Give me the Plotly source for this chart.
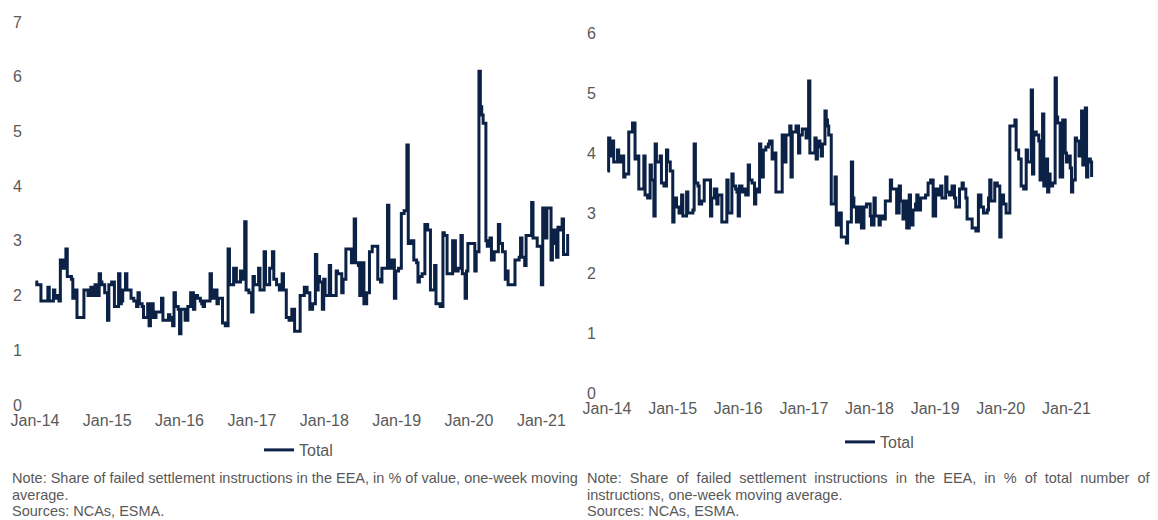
import pandas as pd
import plotly.graph_objects as go

# ---- data: weekly readings, one row per year (Jan 2014 - May 2021) ----
value_2014 = [2.25, 2.2, 2.2, 2.2, 1.9, 1.9, 1.9, 1.9, 1.9, 2.15, 1.9, 1.9, 1.9, 2.1, 2.0, 1.95, 2.0, 1.9, 2.65, 2.65, 2.5, 2.5, 2.85, 2.35, 2.35, 2.35,
              2.3, 1.95, 1.95, 2.1, 1.6, 1.6, 1.6, 1.6, 1.6, 2.1, 2.1, 2.1, 2.0, 2.0, 2.15, 2.0, 2.0, 2.2, 2.0, 2.0, 2.4, 2.25, 2.2, 2.2, 2.05, 2.05]
value_2015 = [1.55, 2.2, 2.2, 2.25, 2.25, 1.8, 1.8, 1.8, 2.4, 1.85, 1.9, 2.1, 2.1, 2.4, 2.1, 2.1, 2.1, 1.95, 1.95, 1.9, 1.9, 1.8, 2.05, 1.85, 1.85, 1.8,
              1.6, 1.6, 1.6, 1.85, 1.45, 1.85, 1.85, 1.6, 1.6, 1.7, 1.7, 1.7, 1.7, 1.95, 1.55, 1.55, 1.55, 1.55, 1.65, 1.6, 1.55, 1.45, 2.05, 1.8, 1.8, 1.75]
value_2016 = [1.3, 1.75, 1.75, 1.75, 1.55, 1.55, 1.8, 1.8, 2.05, 2.05, 1.75, 2.0, 2.0, 1.95, 1.95, 1.9, 1.85, 1.8, 1.9, 1.9, 1.9, 1.9, 2.4, 1.95, 1.95, 2.1,
              2.1, 1.85, 1.95, 1.95, 1.95, 1.5, 1.5, 1.45, 1.45, 2.85, 2.2, 2.2, 2.2, 2.5, 2.5, 2.25, 2.25, 2.25, 2.45, 2.3, 2.3, 3.35, 2.1, 2.1, 2.05, 2.05]
value_2017 = [1.7, 2.35, 2.2, 2.2, 2.2, 2.5, 2.1, 2.1, 2.1, 2.8, 2.2, 2.2, 2.2, 2.5, 2.5, 2.8, 2.3, 2.3, 2.2, 2.2, 2.1, 2.1, 2.4, 2.1, 2.1, 1.6,
              1.6, 1.55, 1.55, 1.75, 1.75, 1.35, 1.35, 1.35, 1.35, 2.0, 2.0, 2.0, 2.15, 2.15, 2.05, 2.05, 1.75, 1.75, 1.85, 1.85, 2.75, 2.1, 2.35, 2.25, 2.25, 1.75]
value_2018 = [2.3, 2.0, 2.0, 2.0, 2.55, 2.0, 2.0, 2.0, 2.0, 2.45, 2.4, 2.4, 2.4, 2.05, 2.3, 2.3, 2.85, 2.85, 2.85, 2.85, 2.6, 2.6, 3.4, 2.6, 2.6, 2.55,
              2.0, 2.6, 2.6, 1.85, 1.85, 2.05, 2.05, 2.8, 2.8, 2.9, 2.9, 2.9, 2.9, 2.3, 2.3, 2.25, 2.5, 2.5, 2.5, 2.5, 3.65, 2.5, 2.5, 2.65, 2.65, 1.95]
value_2019 = [2.45, 2.45, 2.5, 2.5, 3.5, 3.5, 3.55, 3.55, 4.75, 2.95, 2.95, 3.0, 3.0, 2.65, 2.65, 2.6, 2.25, 2.35, 2.35, 2.4, 2.4, 3.3, 3.3, 3.2, 3.2, 2.1,
              2.1, 2.1, 2.55, 1.85, 1.85, 1.85, 1.8, 1.8, 3.15, 3.1, 3.1, 2.4, 2.4, 2.4, 2.4, 3.0, 3.0, 2.45, 2.45, 2.5, 2.5, 3.1, 2.4, 2.4, 1.95, 2.45]
value_2020 = [2.95, 2.95, 2.95, 2.95, 2.95, 2.45, 2.8, 2.8, 6.1, 5.45, 5.3, 5.15, 5.15, 3.0, 2.9, 2.9, 3.05, 2.65, 2.65, 2.8, 2.8, 2.8, 3.3, 2.95, 2.95, 2.8,
              2.8, 2.3, 2.45, 2.2, 2.2, 2.2, 2.2, 2.2, 2.65, 2.65, 2.65, 2.7, 3.05, 2.7, 2.7, 2.55, 3.1, 3.1, 3.1, 3.1, 3.7, 3.05, 3.05, 3.05, 2.9, 2.9]
value_2021 = [2.9, 2.2, 3.6, 3.6, 3.05, 3.6, 3.6, 3.6, 2.65, 3.2, 3.2, 2.95, 2.7, 3.25, 3.25, 3.2, 3.4, 2.75, 2.75, 2.75, 3.1, 3.1]

number_2014 = [3.7, 4.25, 3.95, 3.95, 4.2, 3.85, 3.85, 3.85, 4.05, 3.85, 3.85, 3.95, 3.95, 3.6, 3.65, 3.65, 3.65, 4.35, 4.35, 4.35, 4.5, 4.5, 3.9, 3.95, 3.95, 3.4,
               3.4, 3.4, 3.4, 3.95, 3.3, 3.3, 3.25, 3.25, 3.8, 3.55, 3.55, 2.95, 4.15, 3.85, 3.85, 3.85, 3.95, 3.5, 3.5, 3.45, 3.45, 4.05, 3.85, 3.85, 3.7, 3.7]
number_2015 = [2.85, 3.25, 3.25, 3.1, 3.1, 3.0, 3.0, 3.3, 2.95, 2.95, 2.95, 3.35, 3.0, 3.0, 3.0, 3.0, 3.05, 4.15, 3.5, 3.5, 3.45, 3.15, 3.15, 3.2, 3.2, 3.55,
               3.55, 3.55, 3.55, 3.55, 2.95, 3.25, 3.25, 3.4, 3.4, 3.15, 3.3, 3.3, 3.3, 2.85, 2.85, 2.85, 2.85, 3.55, 3.0, 3.0, 3.0, 3.65, 3.45, 3.45, 3.4, 3.35]
number_2016 = [2.95, 3.45, 3.45, 3.35, 3.35, 3.4, 3.3, 3.3, 3.8, 3.55, 3.55, 3.5, 3.5, 3.15, 3.4, 3.4, 3.35, 4.15, 3.6, 3.6, 4.05, 4.05, 4.1, 4.1, 4.15, 4.2,
               4.2, 3.9, 3.9, 4.0, 3.35, 3.35, 3.35, 3.35, 3.35, 4.3, 3.85, 3.85, 4.3, 4.3, 4.3, 4.45, 3.6, 4.35, 4.35, 4.35, 4.45, 4.45, 4.0, 4.3, 4.3, 4.4]
number_2017 = [4.4, 4.4, 4.25, 4.25, 5.2, 4.0, 4.0, 4.0, 4.0, 4.25, 3.9, 4.2, 4.2, 4.1, 3.95, 4.15, 4.15, 4.7, 4.55, 4.45, 4.3, 4.3, 3.15, 3.15, 3.15, 3.6,
               2.8, 2.8, 3.0, 3.0, 2.6, 2.6, 2.6, 2.6, 2.5, 2.85, 2.85, 2.85, 3.85, 3.25, 3.1, 3.1, 2.85, 2.85, 3.1, 3.1, 2.75, 2.75, 3.1, 3.1, 3.15, 3.15]
number_2018 = [3.15, 2.95, 2.8, 2.8, 3.25, 2.95, 2.95, 2.95, 2.8, 2.95, 2.95, 2.9, 2.9, 3.2, 3.2, 3.2, 3.2, 3.55, 3.4, 3.4, 3.4, 3.4, 3.0, 3.0, 3.45, 3.2,
               3.2, 2.9, 3.2, 3.2, 2.75, 2.75, 3.3, 2.8, 2.8, 3.05, 3.05, 3.15, 3.3, 3.05, 3.05, 3.25, 3.25, 3.25, 3.25, 3.3, 3.3, 3.5, 3.5, 3.55, 3.55, 2.95]
number_2019 = [2.95, 3.4, 3.4, 3.3, 3.3, 3.45, 3.25, 3.25, 3.25, 3.6, 3.35, 3.35, 3.3, 3.3, 3.45, 3.45, 3.25, 3.1, 3.1, 3.1, 3.4, 3.4, 3.5, 3.4, 3.4, 3.25,
               2.9, 2.9, 2.9, 2.9, 2.75, 2.75, 2.75, 2.7, 2.7, 3.3, 3.3, 3.1, 3.1, 3.0, 3.0, 3.0, 3.05, 3.25, 3.55, 3.2, 3.2, 3.2, 3.5, 3.5, 3.45, 3.45]
number_2020 = [2.6, 3.3, 3.3, 3.15, 3.15, 3.0, 3.0, 3.0, 4.45, 4.45, 4.45, 4.45, 4.55, 4.05, 4.05, 3.9, 3.9, 3.45, 3.45, 3.4, 3.4, 4.05, 3.85, 3.85, 3.85, 5.05,
               3.65, 4.35, 4.35, 4.3, 4.3, 4.2, 3.55, 3.55, 4.65, 3.45, 3.9, 3.9, 3.35, 3.65, 3.45, 3.45, 3.5, 3.5, 5.25, 4.6, 4.5, 4.5, 3.6, 3.6, 4.55, 4.55]
number_2021 = [4.0, 3.85, 3.85, 3.95, 3.75, 3.35, 3.55, 3.55, 4.25, 4.2, 4.2, 3.95, 4.2, 4.7, 3.8, 3.8, 4.75, 3.6, 3.9, 3.9, 3.85, 3.6]

value_share = value_2014 + value_2015 + value_2016 + value_2017 + value_2018 + value_2019 + value_2020 + value_2021
number_share = number_2014 + number_2015 + number_2016 + number_2017 + number_2018 + number_2019 + number_2020 + number_2021

dates_left = pd.date_range("2014-01-03", periods=len(value_share), freq="7D")
dates_right = pd.date_range("2014-01-03", periods=len(number_share), freq="7D")

tick_dates = pd.date_range("2014-01-01", periods=8, freq="YS")
tick_labels = ["Jan-14", "Jan-15", "Jan-16", "Jan-17", "Jan-18", "Jan-19", "Jan-20", "Jan-21"]

series_name = "Total"
note_left = ["Note: Share of failed settlement instructions in the EEA, in % of value, one-week moving",
             "average.", "Sources: NCAs, ESMA."]
note_right = ["Note:  Share  of  failed  settlement  instructions  in  the  EEA,  in  %  of  total  number  of",
              "instructions, one-week moving average.", "Sources: NCAs, ESMA."]

# ---- styling ----
W, H = 1158, 520
LINE = "#0b2146"
TXT = "#595959"
FONT = "Liberation Sans Narrow, Arial Narrow, Liberation Sans, Arial, sans-serif"

def px_x(p):
    return p / W

def px_y(p):
    return 1 - p / H

fig = go.Figure()
fig.add_trace(go.Scatter(x=dates_left, y=value_share, mode="lines", name=series_name,
                         line=dict(color=LINE, width=3, shape="hv"),
                         xaxis="x", yaxis="y", legend="legend"))
fig.add_trace(go.Scatter(x=dates_right, y=number_share, mode="lines", name=series_name,
                         line=dict(color=LINE, width=3, shape="hv"),
                         xaxis="x2", yaxis="y2", legend="legend2"))

axis_common = dict(showgrid=False, zeroline=False, showline=False, ticks="", automargin=False,
                   tickfont=dict(family=FONT, size=16, color=TXT))
xr = ["2014-01-01", "2021-06-20"]
fig.update_layout(
    width=W, height=H, margin=dict(l=0, r=0, t=0, b=0, autoexpand=False),
    paper_bgcolor="white", plot_bgcolor="white",
    font=dict(family=FONT, color=TXT),
    xaxis=dict(domain=[px_x(35), px_x(575)], range=xr, tickvals=tick_dates, ticktext=tick_labels,
               anchor="y", ticklabelstandoff=4, **axis_common),
    yaxis=dict(domain=[px_y(405), px_y(22)], range=[0, 7], dtick=1, anchor="x",
               ticklabelstandoff=12, **axis_common),
    xaxis2=dict(domain=[px_x(607), px_x(1097)], range=xr, tickvals=tick_dates, ticktext=tick_labels,
                anchor="y2", ticklabelstandoff=4, **axis_common),
    yaxis2=dict(domain=[px_y(393), px_y(33)], range=[0, 6], dtick=1, anchor="x2",
                ticklabelstandoff=10, **axis_common),
    legend=dict(x=px_x(259), y=px_y(450), xanchor="left", yanchor="middle",
                font=dict(family=FONT, size=16, color=TXT), bgcolor="rgba(0,0,0,0)"),
    legend2=dict(x=px_x(840), y=px_y(442), xanchor="left", yanchor="middle",
                 font=dict(family=FONT, size=16, color=TXT), bgcolor="rgba(0,0,0,0)"),
    showlegend=True,
)

for i, line in enumerate(note_left):
    fig.add_annotation(text=line, x=px_x(10), y=px_y(478 + i * 16.5), xref="paper", yref="paper",
                       xanchor="left", yanchor="middle", showarrow=False,
                       font=dict(family=FONT, size=14.5, color=TXT))
for i, line in enumerate(note_right):
    fig.add_annotation(text=line, x=px_x(585), y=px_y(478 + i * 16.5), xref="paper", yref="paper",
                       xanchor="left", yanchor="middle", showarrow=False,
                       font=dict(family=FONT, size=14.5, color=TXT))

fig.write_html("out.html", config={"displayModeBar": False},
               post_script="document.body.style.margin='0';document.body.style.overflow='hidden';")
